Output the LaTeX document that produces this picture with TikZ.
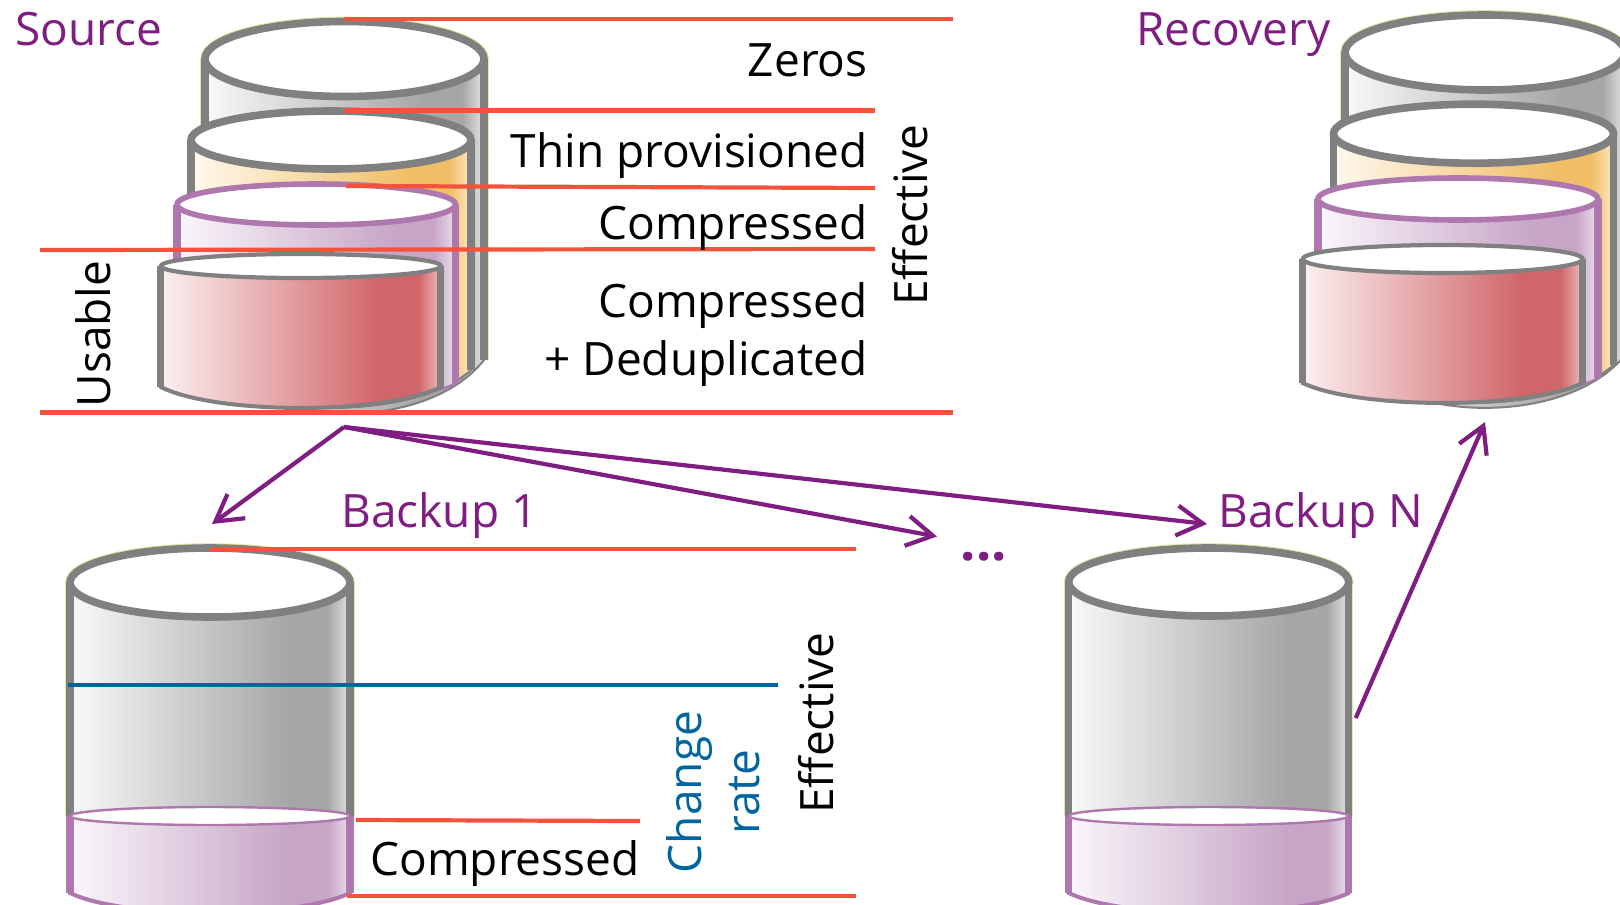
\documentclass[tikz,border=0pt]{standalone}
\usepackage{fontspec}
\setmainfont{Open Sans}
\usetikzlibrary{arrows.meta}
\definecolor{drumedge}{HTML}{808080}
\definecolor{drumlilac}{HTML}{AE78AE}
\definecolor{drumhalo}{HTML}{E6E6A6}
\definecolor{redrule}{HTML}{F4533B}
\definecolor{bluerule}{HTML}{00659F}
\definecolor{titlepurple}{HTML}{7F1D82}
\definecolor{greyA}{HTML}{F9F9F9}\definecolor{greyB}{HTML}{A6A6A6}\definecolor{greyC}{HTML}{E4E4E0}
\definecolor{sandA}{HTML}{FFF9EE}\definecolor{sandB}{HTML}{F0BE66}\definecolor{sandC}{HTML}{FCE8C4}
\definecolor{lilacA}{HTML}{FAF6FB}\definecolor{lilacB}{HTML}{C7A5C6}\definecolor{lilacC}{HTML}{EADFEC}
\definecolor{roseA}{HTML}{FBF0F0}\definecolor{roseB}{HTML}{D1666A}\definecolor{roseC}{HTML}{EDBDBD}
\newcommand{\drumshade}[2]{\pgfdeclarehorizontalshading{#1}{100bp}{color(0bp)=(#2A); color(25bp)=(#2A); color(64bp)=(#2B); color(71bp)=(#2B); color(75bp)=(#2C); color(100bp)=(#2C)}}
\drumshade{drumgrey}{grey}
\drumshade{drumsand}{sand}
\drumshade{drumlilac}{lilac}
\drumshade{drumrose}{rose}
\tikzset{redline/.style={draw=redrule,line width=2.1pt},
         blueline/.style={draw=bluerule,line width=2.1pt},
         flow/.style={draw=titlepurple,line width=2.1pt,-{Straight Barb[length=13pt,width=15pt,line width=2.1pt]}},
         lbl/.style={inner sep=0pt,font=\fontsize{23}{27}\selectfont},
         title/.style={lbl,text=titlepurple},
         cap/.style={fill=white,line width=#1}
}
%cx, cy, rx, ry, foot of the side, sag of the foot, options of the body, options of the top
\newcommand{\drum}[8]{
  \draw[shade,line width=2pt,#7] ({#1-#3},#2) -- ({#1-#3},#5) .. controls ({#1-0.6*#3},{#5+#6*1.33}) and ({#1+0.6*#3},{#5+#6*1.33}) .. ({#1+#3},#5) -- ({#1+#3},#2);
  \draw[#7,line width=3.6pt] ({#1-#3},#2) -- ({#1-#3},#5) ({#1+#3},#5) -- ({#1+#3},#2);
  \draw[cap=3.8pt,#8] (#1,#2) ellipse [x radius=#3, y radius=#4];
}
%cx, cy, rx, ry, foot of the side
\newcommand{\drumhalo}[5]{
  \draw[drumhalo,line width=4.6pt] ({#1-#3},#5) -- ({#1-#3},#2) ({#1+#3},#5) -- ({#1+#3},#2);
  \draw[drumhalo,line width=4.8pt] (#1,#2) ellipse [x radius=#3, y radius=#4];
}
\begin{document}
\begin{tikzpicture}[x=0.5pt,y=0.5pt,yscale=-1,xscale=1]
\useasboundingbox (0,0) rectangle (1620,904);

%Source drums
\drumhalo{344.5}{59}{139.5}{37.5}{360}
\drum{344.5}{59}{139.5}{37.5}{360}{54}{shading=drumgrey,draw=drumedge,line width=1pt}{draw=drumedge}
\drum{331}{140}{140}{29}{370}{38}{shading=drumsand,draw=drumedge,line width=1pt}{draw=drumedge}
\drum{316.3}{204.5}{139.3}{20.5}{383}{22}{shading=drumlilac,draw=drumlilac,line width=1pt}{draw=drumlilac,line width=2.8pt}
\drum{300.8}{266}{140}{12}{387}{21}{shading=drumrose,draw=drumedge}{draw=drumedge,line width=2.1pt}

%Recovery drums
\drumhalo{1485}{52.5}{140}{37.5}{355}
\drum{1485}{52.5}{140}{37.5}{355}{53}{shading=drumgrey,draw=drumedge,line width=1pt}{draw=drumedge}
\drum{1473.5}{133.7}{140}{29.5}{365}{38}{shading=drumsand,draw=drumedge,line width=1pt}{draw=drumedge}
\drum{1458}{199}{140}{21}{378}{22}{shading=drumlilac,draw=drumlilac,line width=1pt}{draw=drumlilac,line width=2.8pt}
\drum{1442.7}{259}{140}{14}{383}{20}{shading=drumrose,draw=drumedge}{draw=drumedge,line width=2.1pt}

%Backup drums
\drumhalo{210}{582.5}{140}{34.5}{816}
\drum{210}{582.5}{140}{34.5}{816}{0}{shading=drumgrey,draw=drumedge}{draw=drumedge}
\drum{210}{816}{140}{9}{893}{20}{shading=drumlilac,draw=drumlilac}{draw=drumlilac,line width=1.2pt}
\drumhalo{1208.7}{582}{140}{34}{816}
\drum{1208.7}{582}{140}{34}{816}{0}{shading=drumgrey,draw=drumedge}{draw=drumedge}
\drum{1208.7}{816}{140}{9}{893}{20}{shading=drumlilac,draw=drumlilac}{draw=drumlilac,line width=1.2pt}

%Free ends of the rules
\coordinate (zerosL) at (344,19);   \coordinate (zerosR) at (953,19);
\coordinate (thinL) at (344,110.5); \coordinate (thinR) at (875,110.5);
\coordinate (compL) at (346,186);   \coordinate (compR) at (875,188);
\coordinate (usedL) at (40,250);    \coordinate (usedR) at (875,249);
\coordinate (baseL) at (40,412.5);  \coordinate (baseR) at (953,412.5);
\coordinate (oneL) at (210,549);    \coordinate (oneR) at (856,549);
\coordinate (rateL) at (68,685);    \coordinate (rateR) at (778,685);
\coordinate (packL) at (356,820);   \coordinate (packR) at (640,821);
\coordinate (footL) at (347,896);   \coordinate (footR) at (856,896);

%Straight Lines
\foreach \rule in {zeros,thin,comp,used,base,one,pack,foot}
  \draw[redline] (\rule L) -- (\rule R);
\draw[blueline] (rateL) -- (rateR);

%Arrows
\coordinate (fork) at (344,427);
\coordinate (oneTip) at (212,524);
\coordinate (moreTip) at (937,536.5);
\coordinate (lastTip) at (1207,524);
\coordinate (lastOut) at (1355.7,718);
\coordinate (backTip) at (1485,422);
\draw[flow] (fork) -- (oneTip);
\draw[flow] (fork) -- (moreTip);
\draw[flow] (fork) -- (lastTip);
\draw[flow] (lastOut) -- (backTip);

% Text Node
\node[title,anchor=base west] (source) at (15,45.5) {Source};
\node[title,anchor=base west] (recovery) at (1136,45.5) {Recovery};
\node[lbl,anchor=base east] (zeros) at (868,76.5) {Zeros};
\node[lbl,anchor=base east] (thin) at (868,167) {Thin provisioned};
\node[lbl,anchor=base east] (comp) at (868,239) {Compressed};
\node[lbl,anchor=base east] (dedupA) at (868,317) {Compressed};
\node[lbl,anchor=base east] (dedupB) at (868,375) {+ Deduplicated};
\node[lbl,rotate=90,anchor=base] (effTop) at (927,215) {Effective};
\node[lbl,rotate=90,anchor=base] (usable) at (110.5,334) {Usable};
\node[title,anchor=base west] (one) at (341,527) {Backup 1};
\node[title,anchor=base west] (last) at (1218,527) {Backup N};
\node[title,anchor=base,font=\fontsize{27}{30}\selectfont\bfseries] (more) at (984,560) {...};
\node[lbl,rotate=90,anchor=base] (effLow) at (833,723) {Effective};
\node[lbl,rotate=90,anchor=base,text=bluerule] (change) at (701.5,792) {Change};
\node[lbl,rotate=90,anchor=base,text=bluerule] (rate) at (759.5,792) {rate};
\node[lbl,anchor=base east] (pack) at (640,875) {Compressed};

\end{tikzpicture}
\end{document}
